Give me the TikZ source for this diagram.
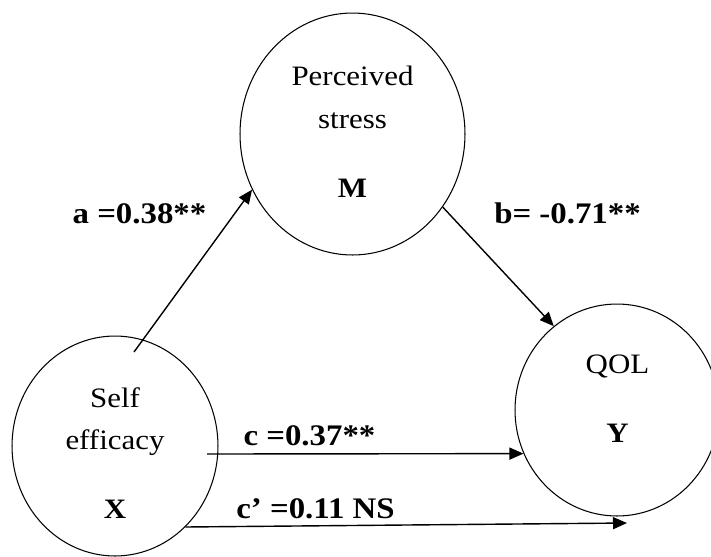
\documentclass[tikz,border=0pt]{standalone}
\usepackage{fontspec}
\setmainfont[FakeStretch=1.1]{Liberation Serif}
\usetikzlibrary{arrows.meta,shapes.geometric}
\tikzset{
  var/.style={ellipse, draw, line width=0.6pt, inner sep=0pt},
  vtxt/.style={anchor=base, font=\fontsize{16}{19}\selectfont},
  vlet/.style={anchor=base, font=\fontsize{16}{19}\selectfont\bfseries},
  coef/.style={anchor=base, font=\fontsize{17}{20}\selectfont\bfseries},
  effarr/.style={-{Triangle[length=2.8mm, width=2.4mm]}, line width=0.8pt},
}

\begin{document}
\begin{tikzpicture}[x=0.02cm, y=-0.02cm]
  \useasboundingbox (0,0) rectangle (711,556);
  % the three variables
  \node[var, minimum width=4.5cm, minimum height=4.84cm] (M) at (352.5,134) {};
  \node[var, minimum width=4.12cm, minimum height=4.4cm] (X) at (115,446) {};
  \node[var, minimum width=4.08cm, minimum height=4.24cm] (Y) at (617,410) {};
  \node[vtxt] (Mt1) at (352.5,85) {Perceived};
  \node[vtxt] (Mt2) at (352.5,128) {stress};
  \node[vlet] (Ml) at (352.5,197) {M};
  \node[vtxt] (Xt1) at (115,407) {Self};
  \node[vtxt] (Xt2) at (115,449) {efficacy};
  \node[vlet] (Xl) at (115,518) {X};
  \node[vtxt] (Yt1) at (617.5,373) {QOL};
  \node[vlet] (Yl) at (617.5,442) {Y};
  % paths
  \coordinate (aS) at (134,352);
  \coordinate (cS) at (207,454);
  \coordinate (cpE) at (627,523);
  \draw[effarr] (aS) -- (M.209);
  \draw[effarr] (M.321) -- (Y.127);
  \draw[effarr] (cS) -- (Y.205);
  \draw[effarr] (X.311) -- (cpE);
  \node[coef] (la) at (139.5,223) {a =0.38**};
  \node[coef] (lb) at (567.5,223) {b= -0.71**};
  \node[coef] (lc) at (309.5,445) {c =0.37**};
  \node[coef] (lcp) at (315.5,518) {c’ =0.11 NS};
\end{tikzpicture}
\end{document}
